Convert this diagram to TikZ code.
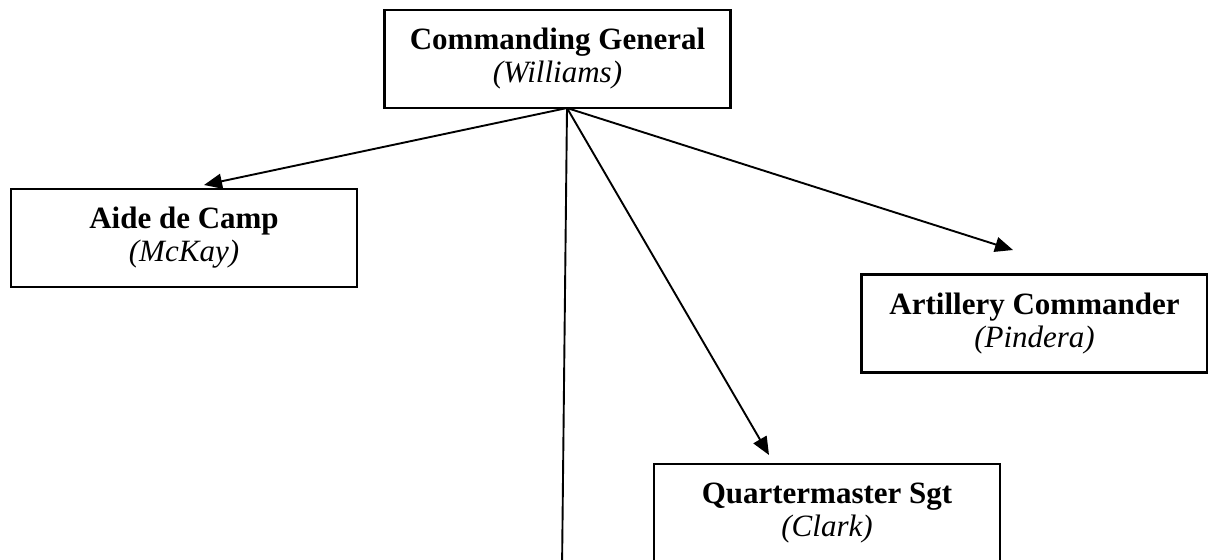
\documentclass[tikz,border=0pt]{standalone}
\usepackage{fontspec}
\setmainfont{Liberation Serif}
\usetikzlibrary{arrows.meta}
\tikzset{
  officer/.style={draw, line width=1.1pt, minimum width=173pt, minimum height=49pt,
    align=center, inner sep=0pt, font=\fontsize{15.5}{16.5}\selectfont},
  chain/.style={line width=0.95pt, -{Triangle[length=9pt,width=7.5pt]}}
}
\begin{document}
\begin{tikzpicture}[x=0.5pt,y=-0.5pt]
			\useasboundingbox (0,0) rectangle (1208,559);
			\clip (0,0) rectangle (1208,559);
			\node[officer] (gen) at (557.5,59) {\textbf{Commanding General}\\\textit{(Williams)}};
			\node[officer] (aide) at (184,238) {\textbf{Aide de Camp}\\\textit{(McKay)}};
			\node[officer] (art) at (1034.5,323.5) {\textbf{Artillery Commander}\\\textit{(Pindera)}};
			\node[officer] (qm) at (827,513) {\textbf{Quartermaster Sgt}\\\textit{(Clark)}};
			\coordinate (o) at (567,108);
			\coordinate (toaide) at (204,185);
			\coordinate (toart) at (1013,250);
			\coordinate (toqm) at (769,455);
			\coordinate (down) at (562,570);
			\draw[chain] (o) to (toaide);
			\draw[chain] (o) to (toart);
			\draw[chain] (o) to (toqm);
			\draw[line width=0.95pt] (o) to (down);
		\end{tikzpicture}
\end{document}
